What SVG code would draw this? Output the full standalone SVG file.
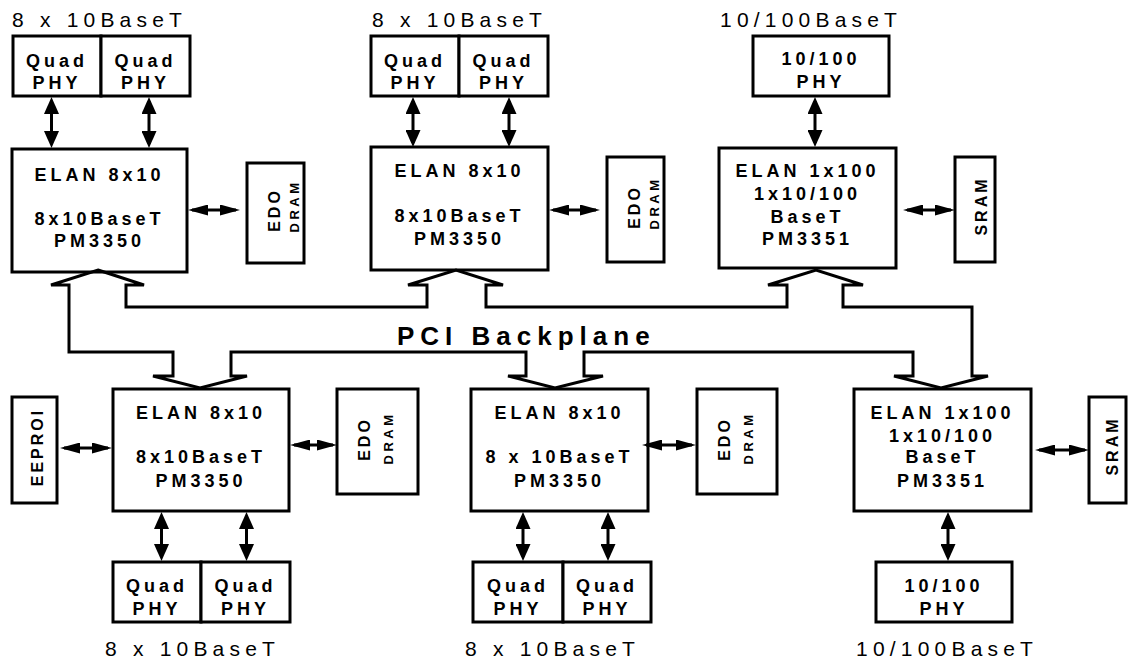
<svg xmlns="http://www.w3.org/2000/svg" width="1128" height="659" viewBox="0 0 1128 659">
<style>
.box{fill:#fff;stroke:#000;stroke-width:3}
.bus{fill:none;stroke:#000;stroke-width:3;stroke-linejoin:miter}
.t{font-family:"Liberation Sans",Arial,sans-serif;font-weight:bold;font-size:18px;letter-spacing:4px;text-anchor:middle;fill:#000}
.lbl{font-family:"Liberation Sans",Arial,sans-serif;font-size:21px;letter-spacing:5.2px;fill:#000}
.edo{font-family:"Liberation Sans",Arial,sans-serif;font-weight:bold;font-size:16px;letter-spacing:3px;text-anchor:middle;fill:#000}
.dram{font-family:"Liberation Sans",Arial,sans-serif;font-weight:bold;font-size:13px;letter-spacing:3.5px;text-anchor:middle;fill:#000}
.pci{font-family:"Liberation Sans",Arial,sans-serif;font-weight:bold;font-size:26px;letter-spacing:6px;fill:#000}
.va{stroke:#000;stroke-width:3;marker-start:url(#av);marker-end:url(#av)}
.ha{stroke:#000;stroke-width:3;marker-start:url(#ah);marker-end:url(#ah)}
</style>
<defs>
<marker id="av" viewBox="0 0 17 15" refX="13" refY="7.5" markerWidth="17" markerHeight="15" markerUnits="userSpaceOnUse" orient="auto-start-reverse"><path d="M0,0 L17,7.5 L0,15 z" fill="#000"/></marker>
<marker id="ah" viewBox="0 0 20 11" refX="16" refY="5.5" markerWidth="20" markerHeight="11" markerUnits="userSpaceOnUse" orient="auto-start-reverse"><path d="M0,0 L20,5.5 L0,11 z" fill="#000"/></marker>
</defs>
<rect width="1128" height="659" fill="#fff"/>

<!-- Top-left group -->
<g id="phy-tl">
<text class="lbl" x="12" y="27">8 x 10BaseT</text>
<rect class="box" x="13" y="36" width="88" height="60"/>
<rect class="box" x="101" y="36" width="89" height="60"/>
<text class="t" x="57" y="67">Quad</text><text class="t" x="57" y="89">PHY</text>
<text class="t" x="145.5" y="67">Quad</text><text class="t" x="145.5" y="89">PHY</text>
</g>
<g id="elan-tl">
<rect class="box" x="12" y="149" width="175" height="123"/>
<text class="t" x="99.5" y="181">ELAN 8x10</text>
<text class="t" x="99.5" y="225">8x10BaseT</text>
<text class="t" x="99.5" y="247">PM3350</text>
</g>
<g id="dram-tl">
<rect class="box" x="247" y="163" width="57" height="100"/>
<text class="edo" transform="translate(280,210) rotate(-90)">EDO</text>
<text class="dram" transform="translate(299,206) rotate(-90)">DRAM</text>
</g>

<!-- Top-middle group -->
<g id="phy-tm">
<text class="lbl" x="372" y="27">8 x 10BaseT</text>
<rect class="box" x="371" y="36" width="88" height="60"/>
<rect class="box" x="459" y="36" width="89" height="60"/>
<text class="t" x="415" y="67">Quad</text><text class="t" x="415" y="89">PHY</text>
<text class="t" x="503.5" y="67">Quad</text><text class="t" x="503.5" y="89">PHY</text>
</g>
<g id="elan-tm">
<rect class="box" x="371" y="147" width="177" height="123"/>
<text class="t" x="459.5" y="177">ELAN 8x10</text>
<text class="t" x="459.5" y="222">8x10BaseT</text>
<text class="t" x="459.5" y="245">PM3350</text>
</g>
<g id="dram-tm">
<rect class="box" x="607" y="157" width="57" height="105"/>
<text class="edo" transform="translate(640,207) rotate(-90)">EDO</text>
<text class="dram" transform="translate(659,203) rotate(-90)">DRAM</text>
</g>

<!-- Top-right group -->
<g id="phy-tr">
<text class="lbl" x="720" y="27">10/100BaseT</text>
<rect class="box" x="753" y="36" width="136" height="60"/>
<text class="t" x="821" y="65">10/100</text><text class="t" x="821" y="88">PHY</text>
</g>
<g id="elan-tr">
<rect class="box" x="719" y="148" width="177" height="120"/>
<text class="t" x="807.5" y="177">ELAN 1x100</text>
<text class="t" x="807.5" y="200">1x10/100</text>
<text class="t" x="807.5" y="223">BaseT</text>
<text class="t" x="807.5" y="245">PM3351</text>
</g>
<g id="sram-tr">
<rect class="box" x="955" y="157" width="40" height="105"/>
<text class="edo" transform="translate(987,206) rotate(-90)">SRAM</text>
</g>

<!-- Bottom-left group -->
<g id="eeprom-bl">
<rect class="box" x="12" y="397" width="45" height="106"/>
<text class="edo" transform="translate(43,447) rotate(-90)">EEPROI</text>
</g>
<g id="elan-bl">
<rect class="box" x="113" y="389" width="176" height="122"/>
<text class="t" x="201" y="419">ELAN 8x10</text>
<text class="t" x="201" y="463">8x10BaseT</text>
<text class="t" x="201" y="487">PM3350</text>
</g>
<g id="dram-bl">
<rect class="box" x="337" y="389" width="81" height="105"/>
<text class="edo" transform="translate(370,439) rotate(-90)">EDO</text>
<text class="dram" transform="translate(393,438) rotate(-90)">DRAM</text>
</g>
<g id="phy-bl">
<rect class="box" x="113" y="562" width="88" height="60"/>
<rect class="box" x="201" y="562" width="89" height="60"/>
<text class="t" x="157" y="592">Quad</text><text class="t" x="157" y="615">PHY</text>
<text class="t" x="245.5" y="592">Quad</text><text class="t" x="245.5" y="615">PHY</text>
<text class="lbl" x="105" y="656">8 x 10BaseT</text>
</g>

<!-- Bottom-middle group -->
<g id="elan-bm">
<rect class="box" x="471" y="389" width="177" height="122"/>
<text class="t" x="559.5" y="419">ELAN 8x10</text>
<text class="t" x="559.5" y="463">8 x 10BaseT</text>
<text class="t" x="559.5" y="487">PM3350</text>
</g>
<g id="dram-bm">
<rect class="box" x="697" y="389" width="80" height="105"/>
<text class="edo" transform="translate(730,439) rotate(-90)">EDO</text>
<text class="dram" transform="translate(753,438) rotate(-90)">DRAM</text>
</g>
<g id="phy-bm">
<rect class="box" x="473" y="562" width="90" height="60"/>
<rect class="box" x="563" y="562" width="88" height="60"/>
<text class="t" x="518" y="592">Quad</text><text class="t" x="518" y="615">PHY</text>
<text class="t" x="607" y="592">Quad</text><text class="t" x="607" y="615">PHY</text>
<text class="lbl" x="465" y="656">8 x 10BaseT</text>
</g>

<!-- Bottom-right group -->
<g id="elan-br">
<rect class="box" x="854" y="389" width="177" height="122"/>
<text class="t" x="942.5" y="419">ELAN 1x100</text>
<text class="t" x="942.5" y="442">1x10/100</text>
<text class="t" x="942.5" y="463">BaseT</text>
<text class="t" x="942.5" y="487">PM3351</text>
</g>
<g id="sram-br">
<rect class="box" x="1089" y="397" width="37" height="106"/>
<text class="edo" transform="translate(1118,446) rotate(-90)">SRAM</text>
</g>
<g id="phy-br">
<rect class="box" x="876" y="562" width="136" height="60"/>
<text class="t" x="944" y="592">10/100</text><text class="t" x="944" y="615">PHY</text>
<text class="lbl" x="856" y="656">10/100BaseT</text>
</g>

<!-- PCI backplane -->
<g id="pci-backplane">
<path class="bus" d="M98,270 L144,285 L126,285 L126,307 L427,307 L427,285 L408,285 L456,270 L503,285 L486,285 L486,307 L787,307 L787,285 L768,285 L816,270 L863,285 L843,285 L843,307 L972,307 L972,376 L988,376 L941,388 L894,376 L913,376 L913,352 L584,352 L584,376 L603,376 L555,388 L508,376 L526,376 L526,352 L231,352 L231,376 L247,376 L200,388 L153,376 L173,376 L173,352 L69,352 L69,285 L51,285 Z"/>
<text class="pci" x="397" y="345">PCI Backplane</text>
</g>

<!-- Connectors -->
<g id="connectors">
<line class="va" x1="51.5" y1="101" x2="51.5" y2="144"/>
<line class="va" x1="149" y1="101" x2="149" y2="144"/>
<line class="va" x1="413" y1="101" x2="413" y2="143"/>
<line class="va" x1="509" y1="101" x2="509" y2="143"/>
<line class="va" x1="815" y1="101" x2="815" y2="143"/>
<line class="va" x1="161.5" y1="516" x2="161.5" y2="557"/>
<line class="va" x1="246.5" y1="516" x2="246.5" y2="557"/>
<line class="va" x1="523" y1="516" x2="523" y2="557"/>
<line class="va" x1="608" y1="516" x2="608" y2="557"/>
<line class="va" x1="948" y1="516" x2="948" y2="557"/>
<line class="ha" x1="192" y1="210" x2="236" y2="210"/>
<line class="ha" x1="553" y1="210" x2="596" y2="210"/>
<line class="ha" x1="907" y1="210" x2="951" y2="210"/>
<line class="ha" x1="64" y1="448" x2="108" y2="448"/>
<line class="ha" x1="294" y1="445" x2="333" y2="445"/>
<line class="ha" x1="646" y1="445" x2="692" y2="445"/>
<line class="ha" x1="1039" y1="450" x2="1085" y2="450"/>
</g>
</svg>
